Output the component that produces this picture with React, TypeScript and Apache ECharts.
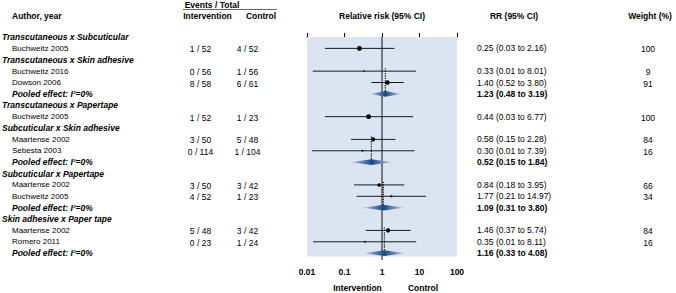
import React, { useEffect, useRef } from "react";
import * as echarts from "echarts";

const groupNames = [
  "Transcutaneous x Subcuticular",
  "Transcutaneous x Skin adhesive",
  "Transcutaneous x Papertape",
  "Subcuticular x Skin adhesive",
  "Subcuticular x Papertape",
  "Skin adhesive x Paper tape",
];
const studyGroup = [0, 1, 1, 2, 3, 3, 4, 4, 5, 5];
const studyNames = [
  "Buchweitz 2005",
  "Buchweitz 2016",
  "Dowson 2006",
  "Buchweitz 2005",
  "Maartense 2002",
  "Sebesta 2003",
  "Maartense 2002",
  "Buchweitz 2005",
  "Maartense 2002",
  "Romero 2011",
];
const intEvents = [1, 0, 8, 1, 3, 0, 3, 4, 5, 0];
const intTotal = [52, 56, 58, 52, 50, 114, 50, 52, 48, 23];
const ctrlEvents = [4, 1, 6, 1, 5, 1, 3, 1, 3, 1];
const ctrlTotal = [52, 56, 61, 23, 48, 104, 42, 23, 42, 24];
const rr = [0.25, 0.33, 1.4, 0.44, 0.58, 0.3, 0.84, 1.77, 1.46, 0.35];
const rrLow = [0.03, 0.0142, 0.52, 0.03, 0.15, 0.0136, 0.18, 0.21, 0.37, 0.0145];
const rrHigh = [2.16, 8.01, 3.8, 6.77, 2.28, 7.39, 3.95, 14.97, 5.74, 8.11];
const weights = [100, 9, 91, 100, 84, 16, 66, 34, 84, 16];
const pooledGroup = [1, 3, 4, 5];
const pooledRR = [1.23, 0.52, 1.09, 1.16];
const pooledLow = [0.48, 0.15, 0.31, 0.33];
const pooledHigh = [3.19, 1.84, 3.8, 4.08];
const pooledI2 = [0, 0, 0, 0];
const axisTicks = [0.01, 0.1, 1, 10, 100];

const FAM = '"Liberation Sans", Arial, Helvetica, sans-serif';
const PANEL = "#dbe5f1";

type Row = { kind: "header" | "study" | "pooled"; idx: number };

function buildRows() {
  const rows: Row[] = [];
  const studyRow: number[] = [];
  const pooledRow: number[] = [];
  const firstRow: number[] = [];
  groupNames.forEach((_, gi) => {
    rows.push({ kind: "header", idx: gi });
    let first = -1;
    studyGroup.forEach((sg, si) => {
      if (sg === gi) {
        studyRow[si] = rows.length;
        if (first < 0) first = rows.length;
        rows.push({ kind: "study", idx: si });
      }
    });
    firstRow[gi] = first;
    const pi = pooledGroup.indexOf(gi);
    if (pi >= 0) {
      pooledRow[pi] = rows.length;
      rows.push({ kind: "pooled", idx: pi });
    }
  });
  return { rows, studyRow, pooledRow, firstRow };
}

const ciText = (e: number, l: number, h: number) =>
  `${e.toFixed(2)} (${l.toFixed(2)} to ${h.toFixed(2)})`;

function textEl(x: number, y: number, text: string, font: string, align = "left") {
  return {
    type: "text",
    x,
    y,
    style: {
      text,
      fill: "#000",
      font,
      align,
      textAlign: align,
      verticalAlign: "middle",
      textVerticalAlign: "middle",
    },
  };
}

export default function App() {
  const ref = useRef<HTMLDivElement>(null);
  useEffect(() => {
    document.body.style.margin = "0";
    if (!ref.current) return;
    const chart = echarts.init(ref.current, undefined, { renderer: "svg" });
    const { rows, studyRow, pooledRow, firstRow } = buildRows();
    const X_MIN = axisTicks[0];
    const X_MAX = axisTicks[axisTicks.length - 1];
    const Y_MAX = rows.length - 0.4;
    const PANEL_BOTTOM = rows.length - 0.7;

    const fReg = `8px ${FAM}`;
    const fNum = `8.5px ${FAM}`;
    const fBold = `bold 8.5px ${FAM}`;
    const fBI = `italic bold 8.5px ${FAM}`;

    const option: any = {
      animation: false,
      grid: { left: 307, width: 150, top: 37, bottom: 33 },
      xAxis: {
        type: "log",
        logBase: 10,
        min: X_MIN,
        max: X_MAX,
        axisLine: { show: true, lineStyle: { color: "#000", width: 1 } },
        axisTick: { show: true, inside: true, length: 4, lineStyle: { color: "#000" } },
        minorTick: { show: false },
        splitLine: { show: false },
        axisLabel: {
          color: "#000",
          fontWeight: "bold",
          fontSize: 8.5,
          fontFamily: FAM,
          margin: 7,
          formatter: (v: number) => String(Number(v.toPrecision(3))),
        },
      },
      yAxis: {
        type: "value",
        inverse: true,
        min: 0,
        max: Y_MAX,
        show: false,
      },
      graphic: [
        textEl(12, 16, "Author, year", fBold),
        textEl(212, 4.5, "Events / Total", fBold, "center"),
        {
          type: "line",
          shape: { x1: 183, y1: 9.5, x2: 277, y2: 9.5 },
          style: { stroke: "#666", lineWidth: 1 },
        },
        textEl(207.5, 16, "Intervention", fBold, "center"),
        textEl(261, 16, "Control", fBold, "center"),
        textEl(382, 16, "Relative risk (95% CI)", fBold, "center"),
        textEl(514, 16, "RR (95% CI)", fBold, "center"),
        textEl(650, 16, "Weight (%)", fBold, "center"),
        textEl(357.5, 287.5, "Intervention", fBold, "center"),
        textEl(423, 287.5, "Control", fBold, "center"),
      ],
      series: [
        {
          type: "custom",
          silent: true,
          clip: false,
          z: 1,
          data: [[X_MIN, 0, X_MAX, PANEL_BOTTOM]],
          renderItem: (_p: any, api: any) => {
            const p0 = api.coord([api.value(0), api.value(1)]);
            const p1 = api.coord([api.value(2), api.value(3)]);
            const t = api.coord([1, 0]);
            const b = api.coord([1, Y_MAX]);
            return {
              type: "group",
              children: [
                {
                  type: "rect",
                  shape: { x: p0[0], y: p0[1], width: p1[0] - p0[0], height: p1[1] - p0[1] },
                  style: { fill: PANEL },
                },
                {
                  type: "line",
                  shape: { x1: t[0], y1: t[1], x2: b[0], y2: b[1] },
                  style: { stroke: "#111", lineWidth: 1 },
                },
              ],
            };
          },
        },
        {
          type: "custom",
          silent: true,
          clip: false,
          z: 2,
          data: pooledGroup
            .map((g, i) => [pooledRR[i], firstRow[g], pooledRow[i]])
            .filter((d, i) => pooledRow[i] - firstRow[pooledGroup[i]] > 1),
          renderItem: (_p: any, api: any) => {
            const a = api.coord([api.value(0), api.value(1)]);
            const b = api.coord([api.value(0), api.value(2)]);
            return {
              type: "line",
              shape: { x1: a[0], y1: a[1] - 3, x2: b[0], y2: b[1] },
              style: { stroke: "#111", lineWidth: 1.2, lineDash: [1.2, 1.2] },
            };
          },
        },
        {
          type: "custom",
          silent: true,
          clip: false,
          z: 3,
          data: rr.map((v, i) => [v, studyRow[i], rrLow[i], rrHigh[i], weights[i]]),
          renderItem: (_p: any, api: any) => {
            const c = api.coord([api.value(0), api.value(1)]);
            const l = api.coord([api.value(2), api.value(1)]);
            const h = api.coord([api.value(3), api.value(1)]);
            const r = 0.5 + api.value(4) * 0.019;
            return {
              type: "group",
              children: [
                {
                  type: "line",
                  shape: { x1: l[0], y1: l[1], x2: h[0], y2: h[1] },
                  style: { stroke: "#1a1a1a", lineWidth: 1 },
                },
                {
                  type: "circle",
                  shape: { cx: c[0], cy: c[1], r },
                  style: { fill: "#000" },
                },
              ],
            };
          },
        },
        {
          type: "custom",
          silent: true,
          clip: false,
          z: 4,
          data: pooledRR.map((v, i) => [v, pooledRow[i], pooledLow[i], pooledHigh[i]]),
          renderItem: (_p: any, api: any) => {
            const c = api.coord([api.value(0), api.value(1)]);
            const l = api.coord([api.value(2), api.value(1)]);
            const h = api.coord([api.value(3), api.value(1)]);
            const hh = 2.8;
            return {
              type: "polygon",
              shape: {
                points: [
                  [l[0], c[1]],
                  [c[0], c[1] - hh],
                  [h[0], c[1]],
                  [c[0], c[1] + hh],
                ],
              },
              style: {
                fill: new echarts.graphic.LinearGradient(0, 0, 1, 0, [
                  { offset: 0, color: "#b9cbe3" },
                  { offset: 0.5, color: "#1b4985" },
                  { offset: 1, color: "#b9cbe3" },
                ]),
              },
            };
          },
        },
        {
          type: "custom",
          silent: true,
          clip: false,
          z: 5,
          data: rows.map((r, ri) => [1, ri, r.kind === "header" ? 0 : r.kind === "study" ? 1 : 2, r.idx]),
          renderItem: (_p: any, api: any) => {
            const y = api.coord([1, api.value(1)])[1];
            const kind = api.value(2);
            const i = api.value(3);
            const ch: any[] = [];
            if (kind === 0) {
              ch.push(textEl(2, y, groupNames[i], fBI));
            } else if (kind === 1) {
              ch.push(textEl(12, y, studyNames[i], fReg));
              ch.push(textEl(200.5, y + 1, `${intEvents[i]} / ${intTotal[i]}`, fNum, "center"));
              ch.push(textEl(247.5, y + 1, `${ctrlEvents[i]} / ${ctrlTotal[i]}`, fNum, "center"));
              ch.push(textEl(477, y, ciText(rr[i], rrLow[i], rrHigh[i]), fNum));
              ch.push(textEl(648, y + 1, String(weights[i]), fNum, "center"));
            } else {
              ch.push(textEl(12, y, `Pooled effect: I\u00B2=${pooledI2[i]}%`, fBI));
              ch.push(textEl(477, y, ciText(pooledRR[i], pooledLow[i], pooledHigh[i]), fBold));
            }
            return { type: "group", children: ch };
          },
        },
      ],
    };
    chart.setOption(option);
    return () => chart.dispose();
  }, []);
  return <div ref={ref} style={{ width: 676, height: 293 }} />;
}
